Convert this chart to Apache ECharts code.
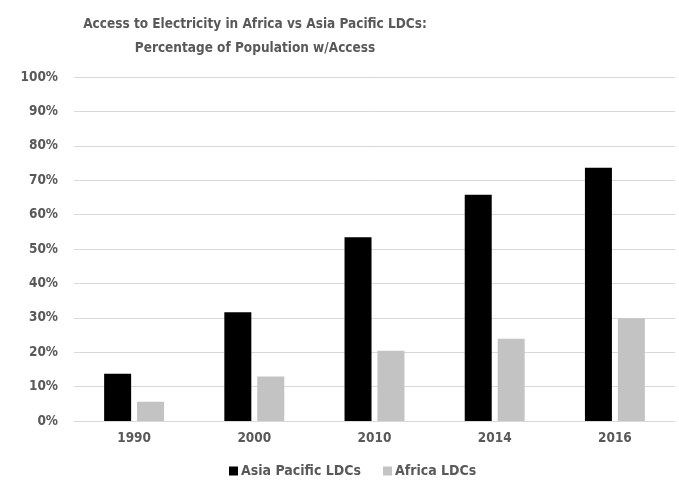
<!DOCTYPE html>
<html>
<head>
<meta charset="utf-8">
<script src="https://cdn.jsdelivr.net/npm/echarts@6/dist/echarts.min.js"></script>
<style>
  html, body { margin: 0; padding: 0; background: #fff; }
  #chart { width: 679px; height: 485px; }
</style>
</head>
<body>
<div id="chart"></div>
<script>
var years = ['1990', '2000', '2010', '2014', '2016']
var asiaPacific = [13.7, 31.6, 53.4, 65.8, 73.6]
var africa = [5.6, 12.9, 20.4, 23.9, 29.9]

var font = '"DejaVu Sans Condensed", "Liberation Sans", sans-serif'
var textGrey = '#595959'

var chart = echarts.init(document.getElementById('chart'))
chart.setOption({
  backgroundColor: '#fff',
  animation: false,
  title: {
    text: 'Access to Electricity in Africa vs Asia Pacific LDCs:\nPercentage of Population w/Access',
    left: 250,
    top: 7,
    textAlign: 'center',
    textStyle: {
      color: textGrey,
      fontFamily: font,
      fontSize: 13.5,
      fontWeight: 'bold',
      lineHeight: 24
    }
  },
  legend: {
    bottom: 2,
    left: 224,
    itemWidth: 9,
    itemHeight: 9,
    itemGap: 22,
    icon: 'rect',
    textStyle: {
      color: textGrey,
      fontFamily: font,
      fontSize: 14,
      fontWeight: 'bold',
      padding: [0, 0, 0, -2]
    },
    data: ['Asia Pacific LDCs', 'Africa LDCs']
  },
  grid: {
    left: 74,
    right: 4,
    top: 77,
    bottom: 64
  },
  xAxis: {
    type: 'category',
    data: years,
    axisLine: { lineStyle: { color: '#d9d9d9', width: 1 } },
    axisTick: { show: false },
    axisLabel: {
      color: textGrey,
      fontFamily: font,
      fontSize: 13.5,
      fontWeight: 'bold',
      margin: 10
    }
  },
  yAxis: {
    type: 'value',
    min: 0,
    max: 100,
    interval: 10,
    axisLine: { show: false },
    axisTick: { show: false },
    splitLine: { lineStyle: { color: '#d9d9d9', width: 1 } },
    axisLabel: {
      color: textGrey,
      fontFamily: font,
      fontSize: 13.5,
      fontWeight: 'bold',
      margin: 16,
      formatter: '{value}%'
    }
  },
  series: [{
    name: 'Asia Pacific LDCs',
    type: 'bar',
    data: asiaPacific,
    barWidth: 27,
    barGap: '22%',
    itemStyle: { color: '#000000' }
  }, {
    name: 'Africa LDCs',
    type: 'bar',
    data: africa,
    barWidth: 27,
    barGap: '22%',
    itemStyle: { color: '#c3c3c3' }
  }]
})
</script>
</body>
</html>
